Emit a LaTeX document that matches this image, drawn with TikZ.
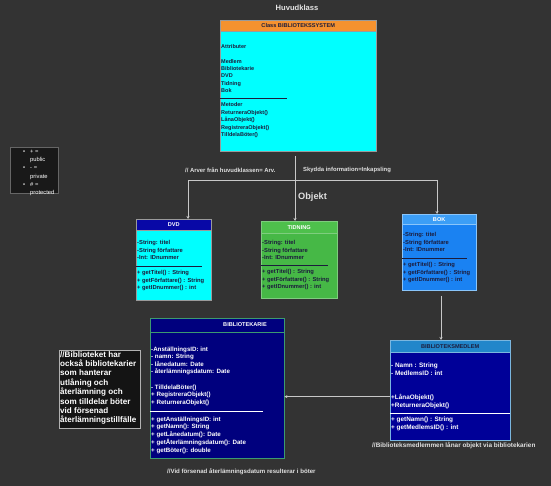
\documentclass[tikz,border=0pt]{standalone}
\usepackage{fontspec}
\setmainfont{Liberation Sans}
\usetikzlibrary{arrows.meta,positioning,calc}
\definecolor{bg}{HTML}{333333}
\definecolor{wire}{HTML}{C8C8C8}
\definecolor{edge}{HTML}{9A9A9A}
\definecolor{ink}{HTML}{1C1C3C}
\definecolor{sysh}{HTML}{F5922F}
\definecolor{aqua}{HTML}{00FFFF}
\definecolor{dvdh}{HTML}{0808A6}
\definecolor{grn}{HTML}{46B846}
\definecolor{grnh}{HTML}{4EC04C}
\definecolor{bokh}{HTML}{3C9EF6}
\definecolor{bok}{HTML}{1A82F2}
\definecolor{navy}{HTML}{00007E}
\definecolor{bibedge}{HTML}{3C9A70}
\definecolor{medh}{HTML}{2286CA}
\definecolor{med}{HTML}{000098}
\tikzset{hdr/.style={draw=edge,anchor=north west,inner sep=0pt,font=\fontsize{5.6}{7}\selectfont\bfseries},
  body/.style={draw=edge,anchor=north west,inner sep=0pt},
  txt/.style={anchor=north west,inner sep=0pt,align=left,text=ink,font=\fontsize{5.8}{7.5}\selectfont\bfseries},
  wtxt/.style={txt,text=white},
  lbl/.style={anchor=west,inner sep=0pt,text=white!88!black,font=\fontsize{6.1}{7}\selectfont\bfseries},
  rule/.style={line width=.5pt},
  link/.style={draw=wire,line width=.6pt,-{Stealth[length=3pt,width=3pt]}}}

\begin{document}
\begin{tikzpicture}[x=1pt,y=-1pt]
\fill[bg] (0,0) rectangle (551,486);
\useasboundingbox (0,0) rectangle (551,486);

\node[text=white!90!black,font=\fontsize{7.6}{9}\selectfont\bfseries] (title) at (297,8) {Huvudklass};

% huvudklassen
\node[hdr,fill=sysh,text=ink,minimum width=156,minimum height=11] (sysh) at (220,20) {Class BIBLIOTEKSSYSTEM};
\node[body,fill=aqua,minimum width=156,minimum height=120] (sys) at (sysh.south west) {};
\node[txt,font=\fontsize{5.5}{7.3}\selectfont\bfseries] (sysa) at (221,44.5) {Attributer\\[7.3pt]Medlem\\Bibliotekarie\\DVD\\Tidning\\Bok};
\draw[rule,ink] (220,98) -- (287,98);
\node[txt,font=\fontsize{5.5}{7.5}\selectfont\bfseries] (sysm) at (221,102.5) {Metoder\\ReturneraObjekt()\\LånaObjekt()\\RegistreraObjekt()\\TilldelaBöter()};

% teckenförklaring
\node[draw=black!60,fill=black!90,anchor=north west,minimum width=48,minimum height=46,inner sep=0pt] (legend) at (10,147) {};
\node[wtxt,font=\fontsize{5.8}{8.2}\selectfont] (legendt) at (23,147.5) {%
\begin{tabular}{@{}l@{\hspace{5pt}}l@{}}
\textbullet & + =\\ & public\\ \textbullet & - =\\ & private\\ \textbullet & \# =\\ & protected
\end{tabular}};

% arv
\coordinate (split) at (295,180);
\coordinate (lj) at (188,180);
\coordinate (rj) at (437,180);
\coordinate (drop) at (441,300);
\node[lbl,font=\fontsize{5.9}{7}\selectfont\bfseries] (arv) at (185,170) {// Arver från huvudklassen= Arv.};
\node[lbl,font=\fontsize{5.9}{7}\selectfont\bfseries] (inkap) at (303,170) {Skydda information=Inkapsling};
\node[lbl,font=\fontsize{9.2}{10}\selectfont\bfseries] (objekt) at (298,197) {Objekt};

% DVD
\node[hdr,fill=dvdh,text=white,minimum width=75,minimum height=11] (dvdh) at (136,219) {DVD};
\node[body,fill=aqua,minimum width=75,minimum height=70] (dvd) at (dvdh.south west) {};
\node[txt] (dvda) at (137,240.5) {-String: titel\\-String författare\\-Int: IDnummer};
\draw[rule,ink] (136,266) -- (202,266);
\node[txt] (dvdm) at (137,270.5) {+ getTitel() : String\\+ getFörfattare() : String\\+ getIDnummer() : int};

% TIDNING
\node[hdr,fill=grnh,draw=grn!70!white,text=white,minimum width=76,minimum height=12] (tidh) at (261,221) {TIDNING};
\node[body,fill=grn,draw=grn!70!white,minimum width=76,minimum height=65] (tid) at (tidh.south west) {};
\node[txt] (tida) at (262,240.5) {-String: titel\\-String författare\\-Int: IDnummer};
\draw[rule,ink] (261,265) -- (328,265);
\node[txt] (tidm) at (262,269.5) {+ getTitel() : String\\+ getFörfattare() : String\\+ getIDnummer() : int};

% BOK
\node[hdr,fill=bokh,draw=bokh!60!white,text=white,minimum width=74,minimum height=10] (bokh) at (402,214) {BOK};
\node[body,fill=bok,draw=bokh!60!white,minimum width=74,minimum height=66] (bok) at (bokh.south west) {};
\node[txt] (boka) at (403,232.5) {-String: titel\\-String författare\\-Int: IDnummer};
\draw[rule,ink] (402,258) -- (467,258);
\node[txt] (bokm) at (403,262.5) {+ getTitel() : String\\+ getFörfattare() : String\\+ getIDnummer() : int};

% BIBLIOTEKARIE
\node[hdr,fill=navy,draw=bibedge,minimum width=134,minimum height=14] (bibh) at (150,318) {};
\node[inner sep=0pt,text=white,font=\fontsize{5.6}{7}\selectfont\bfseries] (bibt) at (245,325) {BIBLIOTEKARIE};
\node[body,fill=navy,draw=bibedge,minimum width=134,minimum height=126] (bib) at (bibh.south west) {};
\node[wtxt,font=\fontsize{6.2}{7.6}\selectfont\bfseries] (biba) at (151,346.5) {-AnställningsID: int\\- namn: String\\- lånedatum: Date\\- återlämningsdatum: Date\\[7.6pt]- TilldelaBöter()\\+ RegistreraObjekt()\\+ ReturneraObjekt()};
\draw[rule,white] (150,411) -- (263,411);
\node[wtxt,font=\fontsize{6.2}{7.75}\selectfont\bfseries] (bibm) at (151,416.5) {+ getAnställningsID: int\\+ getNamn(): String\\+ getLånedatum(): Date\\+ getÅterlämningsdatum(): Date\\+ getBöter(): double};

% BIBLIOTEKSMEDLEM
\node[hdr,fill=medh,draw=medh!60!white,text=ink,minimum width=120,minimum height=12] (medh) at (390,340) {BIBLIOTEKSMEDLEM};
\node[body,fill=med,draw=medh!60!white,minimum width=120,minimum height=88] (med) at (medh.south west) {};
\node[wtxt,font=\fontsize{6.4}{8}\selectfont\bfseries] (meda) at (391,363) {- Namn : String\\- MedlemsID : int};
\node[wtxt,font=\fontsize{6.4}{8}\selectfont\bfseries] (medo) at (391,394) {+LånaObjekt()\\+ReturneraObjekt()};
\draw[rule,white] (390,413) -- (510,413);
\node[wtxt,font=\fontsize{6.4}{8}\selectfont\bfseries] (medm) at (391,417) {+ getNamn() : String\\+ getMedlemsID() : int};

% anteckning
\node[draw=white!70!black,fill=black!92,anchor=north west,minimum width=81,minimum height=78,inner sep=0pt] (note) at (59,350) {};
\node[wtxt,font=\fontsize{8.1}{9.4}\selectfont\bfseries] (notet) at (60,351) {//Biblioteket har\\också bibliotekarier\\som hanterar\\utlåning och\\återlämning och\\som tilldelar böter\\vid försenad\\återlämningstillfälle};

\node[lbl,font=\fontsize{6.4}{7}\selectfont\bfseries] (cap1) at (372,446) {//Biblioteksmedlemmen lånar objekt via bibliotekarien};
\node[lbl] (cap2) at (167,472) {//Vid försenad återlämningsdatum resulterar i böter};

% kopplingar
\draw[draw=wire,line width=.6pt,shorten <=4pt] (split |- sys.south) -- (split);
\draw[draw=wire,line width=.6pt] (lj) -- (rj);
\draw[link] (lj) -- (lj |- dvdh.north);
\draw[link] (split) -- (split |- tidh.north);
\draw[link] (rj) -- (rj |- bokh.north);
\draw[link,shorten <=5pt] (drop |- bok.south) -- (drop |- medh.north);
\draw[link] (med.west) -- (med.west -| bib.east);
\end{tikzpicture}
\end{document}
